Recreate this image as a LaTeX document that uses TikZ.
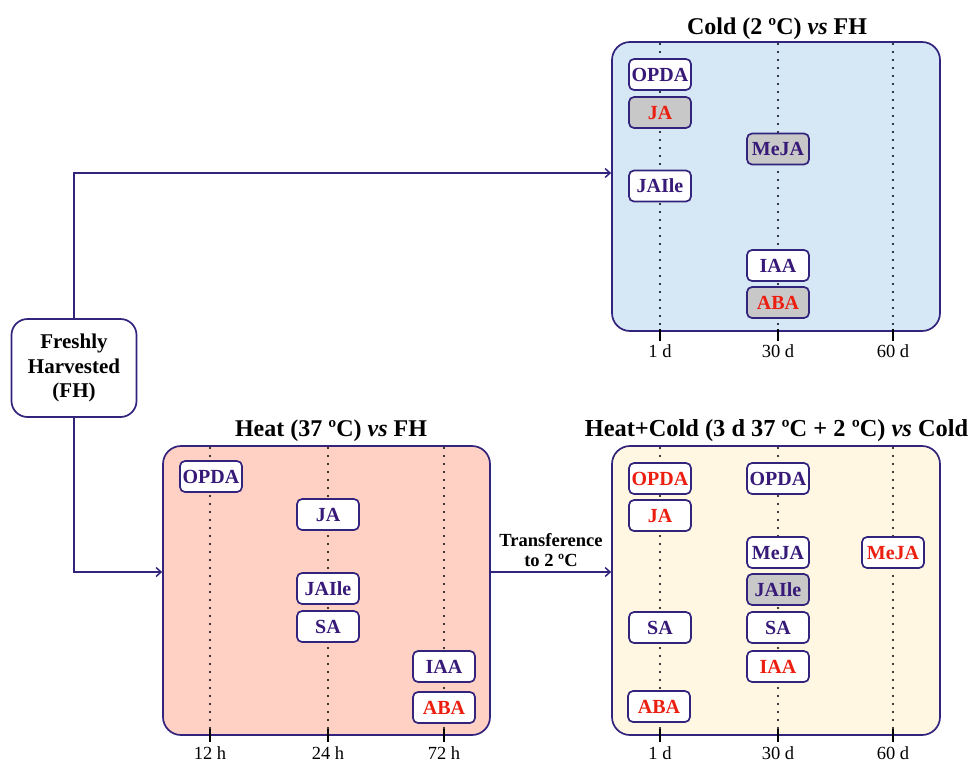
\documentclass[tikz,border=0pt]{standalone}
\usepackage{fontspec}
\setmainfont{Liberation Serif}
\usetikzlibrary{arrows.meta,calc}

\definecolor{navy}{RGB}{50,35,125}
\definecolor{purp}{RGB}{55,25,120}
\definecolor{redt}{RGB}{235,30,15}
\definecolor{coldbg}{RGB}{214,231,245}
\definecolor{heatbg}{RGB}{255,208,196}
\definecolor{hcbg}{RGB}{255,247,225}
\definecolor{graybox}{RGB}{200,200,200}

\tikzset{
  mbox/.style={draw=navy, line width=1.7pt, rounded corners=5pt, fill=white,
    minimum width=62pt, minimum height=31pt, inner sep=0pt,
    font=\fontsize{20}{21}\selectfont\bfseries, text=purp},
  up/.style={text=redt},
  shaded/.style={fill=graybox},
  panel/.style={draw=navy, line width=1.7pt, rounded corners=18pt, inner sep=0pt},
  timeline/.style={line width=2.2pt, line cap=round, dash pattern=on 0pt off 8pt},
  tickmark/.style={line width=1.2pt},
  timelabel/.style={anchor=base, inner sep=0pt, font=\fontsize{18.5}{20}\selectfont},
  paneltitle/.style={anchor=base, font=\fontsize{24}{28}\selectfont\bfseries},
  arr/.style={draw=navy, line width=1.7pt, -{Straight Barb[length=5pt,width=9pt,line width=1.5pt]}},
}

\begin{document}
\begin{tikzpicture}[x=1pt,y=-1pt]
\useasboundingbox (0,0) rectangle (968,763);

% panels
\node[panel, fill=coldbg, minimum width=328pt, minimum height=289pt] (cold) at (776,186.5) {};
\node[panel, fill=heatbg, minimum width=327pt, minimum height=289pt] (heat) at (326.5,590.5) {};
\node[panel, fill=hcbg,   minimum width=328pt, minimum height=289pt] (hc)   at (776,590.5) {};

% titles
\node[paneltitle] (tcold) at (777,34) {Cold (2 ºC) \textit{vs} FH};
\node[paneltitle] (theat) at (331,436) {Heat (37 ºC) \textit{vs} FH};
\node[paneltitle, font=\fontsize{24.4}{28}\selectfont\bfseries] (thc) at (776.5,436)
  {Heat+Cold (3 d 37 ºC + 2 ºC) \textit{vs} Cold};

% time axes
\foreach \x/\lab in {660/1 d, 778/30 d, 893/60 d}{
  \draw[timeline] (\x,44) -- (\x,328);
  \draw[tickmark] (\x,329) -- (\x,341);
  \node[timelabel] at (\x,357) {\lab};
  \draw[timeline] (\x,448) -- (\x,732);
  \draw[tickmark] (\x,729) -- (\x,742);
  \node[timelabel] at (\x,759.5) {\lab};
}
\foreach \x/\lab in {210/12 h, 328/24 h, 444/72 h}{
  \draw[timeline] (\x,448) -- (\x,732);
  \draw[tickmark] (\x,729) -- (\x,742);
  \node[timelabel] at (\x,759.5) {\lab};
}

% cold vs FH
\node[mbox] (c1) at (660,74.5) {OPDA};
\node[mbox, up, shaded] (c2) at (660,112.5) {JA};
\node[mbox, shaded] (c3) at (778,149) {MeJA};
\node[mbox] (c4) at (660,186) {JAIle};
\node[mbox] (c5) at (778,265.5) {IAA};
\node[mbox, up, shaded] (c6) at (778,302.5) {ABA};

% heat vs FH
\node[mbox] (h1) at (211,476.5) {OPDA};
\node[mbox] (h2) at (328,514.5) {JA};
\node[mbox] (h3) at (328,588.5) {JAIle};
\node[mbox] (h4) at (328,626.5) {SA};
\node[mbox] (h5) at (444,666.5) {IAA};
\node[mbox, up] (h6) at (444,707.5) {ABA};

% heat+cold vs cold
\node[mbox, up] (k1) at (660,478.5) {OPDA};
\node[mbox, up] (k2) at (660,515.5) {JA};
\node[mbox] (k3) at (660,627.5) {SA};
\node[mbox, up] (k4) at (659,706.5) {ABA};
\node[mbox] (k5) at (778,478.5) {OPDA};
\node[mbox] (k6) at (778,552.5) {MeJA};
\node[mbox, shaded] (k7) at (778,589.5) {JAIle};
\node[mbox] (k8) at (778,627.5) {SA};
\node[mbox, up] (k9) at (778,666.5) {IAA};
\node[mbox, up] (k10) at (893,552.5) {MeJA};

% starting material
\node[draw=navy, line width=1.7pt, rounded corners=16pt, fill=white,
  minimum width=125pt, minimum height=98pt, inner sep=0pt, align=center,
  font=\fontsize{21}{24.5}\selectfont\bfseries] (fh) at (74,368)
  {Freshly\\Harvested\\(FH)};

% connectors
\coordinate (coldin) at (cold.west |- 0,173);
\coordinate (heatin) at (heat.west |- 0,572);
\coordinate (heatout) at (heat.east |- 0,572);
\coordinate (hcin) at (hc.west |- 0,572);
\draw[arr] (fh.north) |- (coldin);
\draw[arr] (fh.south) |- (heatin);
\draw[arr] (heatout) -- node[above, align=center, font=\fontsize{18.5}{20}\selectfont\bfseries, inner sep=4pt] {Transference\\to 2 ºC} (hcin);
\end{tikzpicture}
\end{document}
